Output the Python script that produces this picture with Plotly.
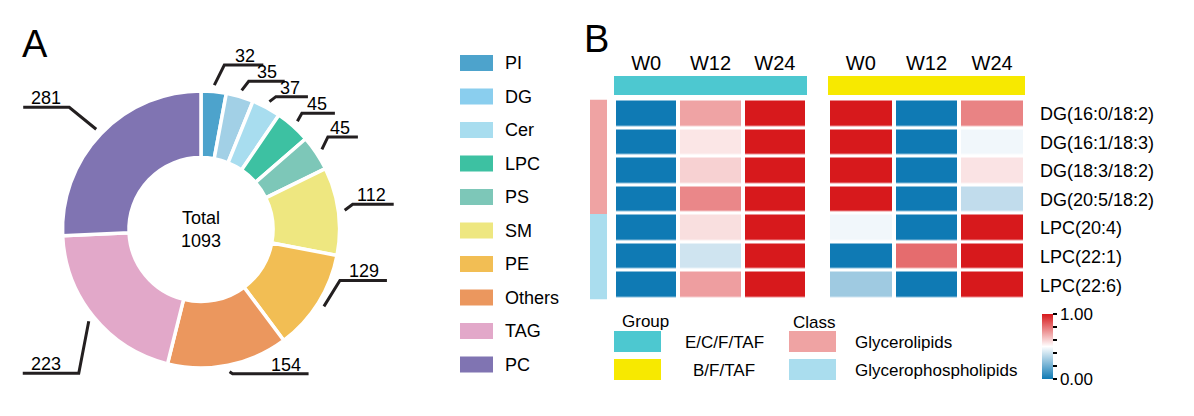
import math
import plotly.graph_objects as go

# ---------------- data ----------------
lipid_classes = ["PI", "DG", "Cer", "LPC", "PS", "SM", "PE", "Others", "TAG", "PC"]
lipid_counts = [32, 35, 37, 45, 45, 112, 129, 154, 223, 281]
lipid_colors = ["#4DA3CC", "#A2D0E6", "#A8DDEF", "#3DC1A2", "#7DC7B8",
                "#EEE780", "#F2BE54", "#EB975E", "#E2A8C9", "#8074B2"]
legend_colors = ["#4DA3CC", "#8ACEEE", "#A8DDEF", "#3DC1A2", "#7DC7B8",
                 "#EEE780", "#F2BE54", "#EB975E", "#E2A8C9", "#8074B2"]

timepoints = ["W0", "W12", "W24"]
lipid_species = ["DG(16:0/18:2)", "DG(16:1/18:3)", "DG(18:3/18:2)", "DG(20:5/18:2)",
                 "LPC(20:4)", "LPC(22:1)", "LPC(22:6)"]
species_class = ["Glycerolipids"] * 4 + ["Glycerophospholipids"] * 3
group_names = ["E/C/F/TAF", "B/F/TAF"]
group_colors = ["#4DC8D0", "#F7E900"]
class_names = ["Glycerolipids", "Glycerophospholipids"]
class_colors = ["#EFA3A3", "#AADDEE"]

ecf_values = [[0, 0.70, 1], [0, 0.555, 1], [0, 0.60, 1], [0, 0.76, 1],
              [0, 0.57, 1], [0, 0.40, 1], [0, 0.71, 1]]
bf_values = [[1, 0, 0.77], [1, 0, 0.47], [1, 0, 0.56], [1, 0, 0.37],
             [0.47, 0, 1], [0, 0.82, 1], [0.30, 0, 1]]

# ---------------- layout helpers ----------------
W, H = 1194, 416
FONT = "Liberation Sans, Arial, sans-serif"
def px(x): return x / W
def py(y): return 1 - y / H

heat_scale = [[0, "#0F7AB4"], [0.5, "#FFFFFF"], [1, "#D7191C"]]

fig = go.Figure()

# ---------------- donut ----------------
pie_x0, pie_x1, pie_top, pie_bot = 62, 340, 91, 368
fig.add_trace(go.Pie(
    labels=lipid_classes, values=lipid_counts, sort=False, direction="clockwise",
    rotation=0, hole=0.52, textinfo="none", hoverinfo="label+value",
    marker=dict(colors=lipid_colors, line=dict(color="white", width=3.5)),
    domain=dict(x=[px(pie_x0), px(pie_x1)], y=[py(pie_bot), py(pie_top)]),
    showlegend=False,
))

cx, cy = (pie_x0 + pie_x1) / 2, (pie_top + pie_bot) / 2
r_start = 145
# leader-line geometry (knee offset dx, dy and horizontal length), pixels
leader_style = [(10, -20, 39), (7, -9, 36), (6.5, -5, 32), (4.5, -8, 33), (6, -12.5, 30),
                (8, -6, 41), (16, -26, 47), (3, 2, 76), (-10, 52, -56), (-27, -22, -46)]
shapes = []
annotations = []
total = sum(lipid_counts)

def text_ann(x, y, text, size, xanchor="center", yanchor="middle"):
    return dict(x=px(x), y=py(y), xref="paper", yref="paper", text=text, showarrow=False,
                xanchor=xanchor, yanchor=yanchor,
                font=dict(size=size, color="black", family=FONT))

cum = 0
for val, (dx, dy, ln) in zip(lipid_counts, leader_style):
    mid = (cum + val / 2) / total * 2 * math.pi
    cum += val
    sx, sy = cx + r_start * math.sin(mid), cy - r_start * math.cos(mid)
    kx, ky = sx + dx, sy + dy
    ex = kx + ln
    path = f"M {px(sx)},{py(sy)} L {px(kx)},{py(ky)} L {px(ex)},{py(ky)}"
    shapes.append(dict(type="path", path=path, xref="paper", yref="paper",
                       line=dict(color="#231F20", width=3)))
    if ln > 0:
        annotations.append(text_ann(ex - 6, ky - 9, str(val), 18, xanchor="right"))
    else:
        annotations.append(text_ann(ex + 6, ky - 9, str(val), 18, xanchor="left"))

annotations.append(text_ann(cx, cy, f"Total<br>{total}", 18))

# pie legend
for i, (lab, col) in enumerate(zip(lipid_classes, legend_colors)):
    yc = 63 + i * 33.5
    shapes.append(dict(type="rect", xref="paper", yref="paper",
                       x0=px(460), x1=px(493), y0=py(yc + 8), y1=py(yc - 8),
                       fillcolor=col, line=dict(width=0)))
    annotations.append(text_ann(503, yc, lab, 18, xanchor="left"))

# ---------------- heatmaps ----------------
heat_top, heat_bot = 99.5, 299.5
fig.add_trace(go.Heatmap(
    z=ecf_values, x=timepoints, y=lipid_species, xaxis="x2", yaxis="y2",
    colorscale=heat_scale, zmin=0, zmax=1, xgap=4, ygap=3.5, showscale=False))
fig.add_trace(go.Heatmap(
    z=bf_values, x=timepoints, y=lipid_species, xaxis="x3", yaxis="y3",
    colorscale=heat_scale, zmin=0, zmax=1, xgap=4, ygap=3.5,
    colorbar=dict(x=px(1042), xanchor="left", xpad=0, y=py(346.5), yanchor="middle",
                  ypad=0, lenmode="pixels", len=65, thicknessmode="pixels", thickness=11,
                  tickvals=[0, 0.2, 0.4, 0.6, 0.8, 1],
                  ticktext=["0.00", "", "", "", "", "1.00"],
                  ticks="outside", ticklen=4, tickwidth=2, tickcolor="black",
                  outlinewidth=0, tickfont=dict(size=17, color="black", family=FONT))))
class_idx = [[class_names.index(c)] for c in species_class]
fig.add_trace(go.Heatmap(
    z=class_idx, x=["Class"], y=lipid_species, xaxis="x4", yaxis="y4",
    colorscale=[[0, class_colors[0]], [0.5, class_colors[0]],
                [0.5, class_colors[1]], [1, class_colors[1]]],
    zmin=0, zmax=1, showscale=False, hoverinfo="y"))

ax_common = dict(showgrid=False, zeroline=False, showline=False, ticks="")
ydom = [py(heat_bot), py(heat_top)]

# group bars
for xr, col in zip(["x2", "x3"], group_colors):
    shapes.append(dict(type="rect", xref=f"{xr} domain", yref="paper", x0=0, x1=1,
                       y0=py(95), y1=py(76), fillcolor=col, line=dict(width=0)))

# bottom legends
annotations.append(text_ann(620, 321, "Group", 17, xanchor="left"))
annotations.append(text_ann(791, 322, "Class", 17, xanchor="left"))
for i, (g, col) in enumerate(zip(group_names, group_colors)):
    y0 = 331 + i * 28
    shapes.append(dict(type="rect", xref="paper", yref="paper", x0=px(614), x1=px(661),
                       y0=py(y0 + 21), y1=py(y0), fillcolor=col, line=dict(width=0)))
    annotations.append(text_ann(724, y0 + 11, g, 17))
for i, (c, col) in enumerate(zip(class_names, class_colors)):
    y0 = 331 + i * 28
    shapes.append(dict(type="rect", xref="paper", yref="paper", x0=px(789), x1=px(836),
                       y0=py(y0 + 21), y1=py(y0), fillcolor=col, line=dict(width=0)))
    annotations.append(text_ann(853, y0 + 11, c, 17, xanchor="left"))

# panel letters
annotations.append(text_ann(35, 44, "A", 38))
annotations.append(text_ann(596, 39, "B", 38))

fig.update_layout(
    width=W, height=H, margin=dict(l=0, r=0, t=0, b=0),
    paper_bgcolor="white", plot_bgcolor="white",
    font=dict(family=FONT, color="black"),
    xaxis2=dict(domain=[px(614), px(807)], anchor="y2", side="top",
                tickfont=dict(size=20), ticklabelstandoff=25, **ax_common),
    yaxis2=dict(domain=ydom, anchor="x2", autorange="reversed",
                showticklabels=False, **ax_common),
    xaxis3=dict(domain=[px(828), px(1025)], anchor="y3", side="top",
                tickfont=dict(size=20), ticklabelstandoff=25, **ax_common),
    yaxis3=dict(domain=ydom, anchor="x3", autorange="reversed", side="right",
                tickfont=dict(size=18), ticklabelstandoff=14, **ax_common),
    xaxis4=dict(domain=[px(590), px(607)], anchor="y4", showticklabels=False, **ax_common),
    yaxis4=dict(domain=ydom, anchor="x4", autorange="reversed",
                showticklabels=False, **ax_common),
    shapes=shapes, annotations=annotations,
)

fig.write_html("out.html", config={"displayModeBar": False},
               post_script="document.body.style.margin='0';")
